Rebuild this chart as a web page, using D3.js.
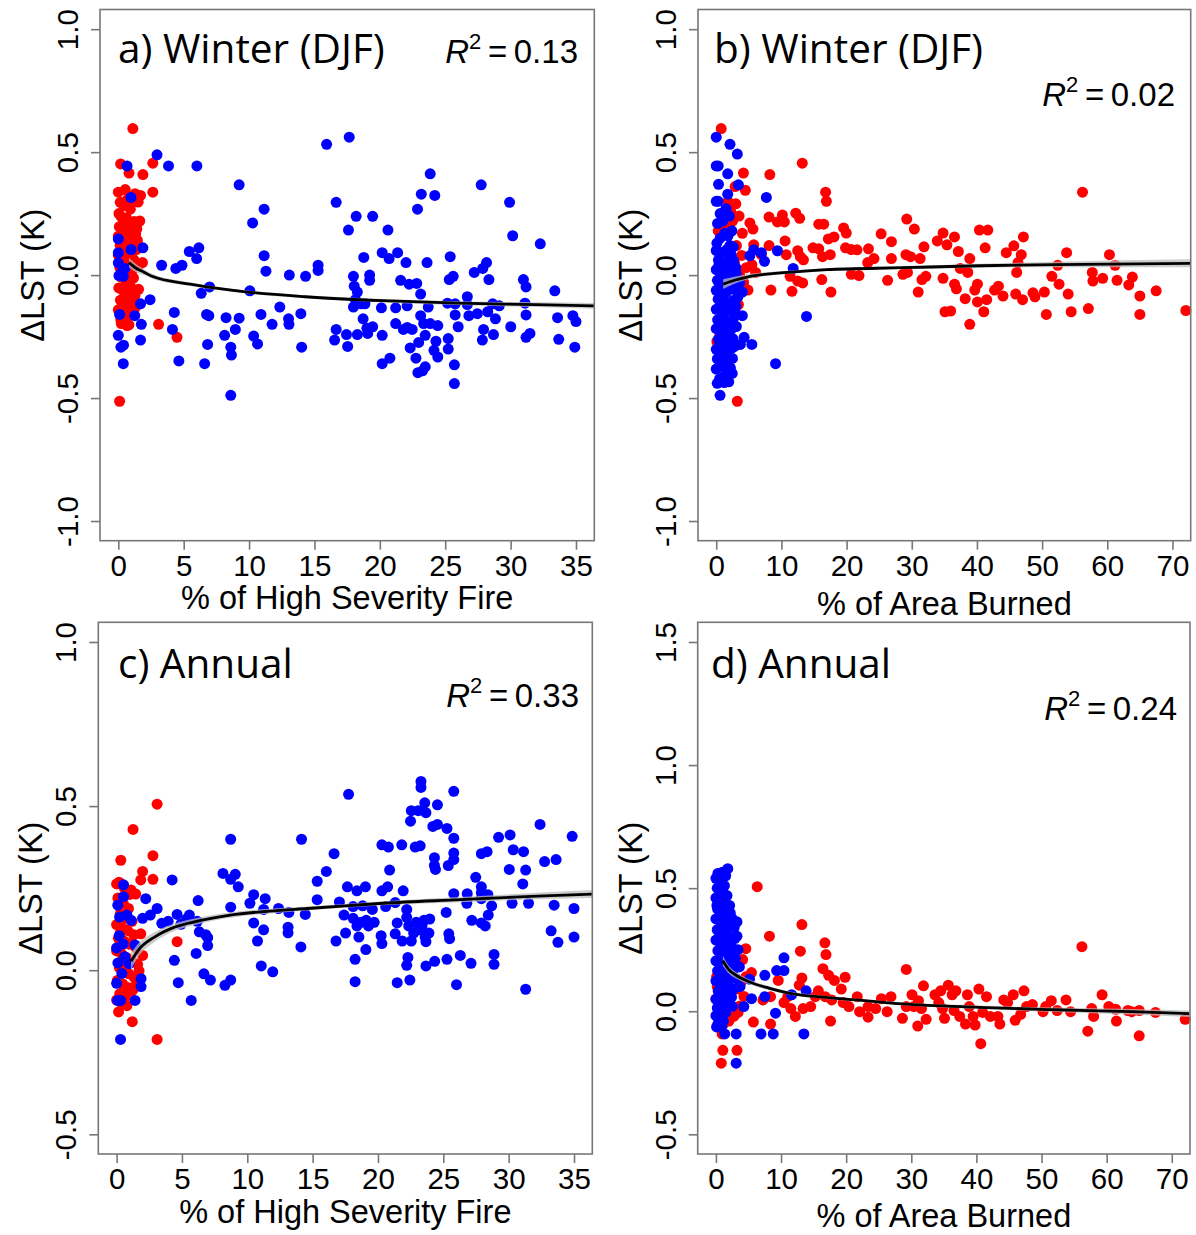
<!DOCTYPE html>
<html>
<head>
<meta charset="utf-8">
<script src="https://cdn.jsdelivr.net/npm/d3@7"></script>
<style>
body{margin:0;background:#fff;}
svg{display:block;}
</style>
</head>
<body>
<script>
// tick labels / axis limits
var ticksFire = [0,5,10,15,20,25,30,35];
var ticksArea = [0,10,20,30,40,50,60,70];
var ticksWinter = [-1.0,-0.5,0.0,0.5,1.0];
var ticksAnnC = [-0.5,0.0,0.5,1.0];
var ticksAnnD = [-0.5,0.0,0.5,1.0,1.5];
var limFire = [-1.4,36.4], limArea = [-2.8,72.8];
var limWinter = [-1.08,1.08], limAnnC = [-0.56,1.06], limAnnD = [-0.58,1.58];

// a) winter, high severity
var redA = [[1.11,0.596],[0.18,0.452],[0.82,0.415],[1.88,0.409],[2.64,0.455],[2.64,0.337],[0.0,0.337],[0.53,0.348],[1.7,0.324],[1.4,0.3],[0.97,0.292],[1.64,0.22],[1.85,0.051],[0.1,-0.513],[4.49,-0.253],[3.08,-0.2],[1.11,-0.12],[0.67,-0.205],[0.23,-0.197],
[0.05,0.25],[0.22,0.238],[0.41,0.223],[0.63,0.232],[0.88,0.207],[1.21,0.218],[0.08,0.197],[0.36,0.188],[0.71,0.176],[1.02,0.192],[1.33,0.168],[0.0,0.158],[0.27,0.151],[0.52,0.139],[0.79,0.148],[1.12,0.127],[1.46,0.141],[0.14,0.121],[0.44,0.098],[0.76,0.113],[1.06,0.092],[1.37,0.104],[0.0,0.081],[0.31,0.069],[0.59,0.058],[0.93,0.049],[1.19,0.062],[0.12,0.031],[0.38,0.022],[0.72,0.034],[1.01,0.012],[0.21,-0.008],[0.56,-0.021],[0.84,-0.033],[1.16,-0.012],[0.04,-0.052],[0.33,-0.061],[0.66,-0.074],[0.96,-0.049],[1.27,-0.083],[0.16,-0.102],[0.47,-0.114],[0.74,-0.097],[1.04,-0.123],[0.0,-0.141],[0.29,-0.152],[0.61,-0.138],[0.91,-0.163],[0.19,-0.181],[0.49,-0.188],[0.81,-0.202],[1.31,-0.131],[0.42,0.283],[0.92,0.268],[1.52,0.297],[1.28,0.331],[0.69,0.307],[0.15,0.296],[1.58,0.041],[1.55,-0.058],[0.26,0.046],[0.57,0.201],[0.86,0.071],[1.42,0.188]];
var blueA = [[2.96,0.489],[3.84,0.444],[6.01,0.444],[0.67,0.444],[0.97,0.316],[0.0,0.147],[0.0,0.091],[0.97,0.104],[1.88,0.111],[0.0,0.05],[0.23,0.01],[0.38,-0.005],[0.05,-0.002],[0.5,0.027],[0.1,-0.16],[0.0,-0.245],[0.2,-0.293],[0.4,-0.285],[0.38,-0.36],[1.26,-0.165],[1.76,-0.2],[1.7,-0.117],[1.7,-0.264],[2.43,-0.1],[3.31,0.04],[4.28,-0.152],[4.14,-0.221],[4.4,0.027],[4.87,0.04],[4.63,-0.349],[5.43,0.096],[6.16,0.111],[5.99,0.067],[6.34,-0.074],[6.98,-0.048],[6.75,-0.16],[6.92,-0.165],[6.83,-0.282],[6.6,-0.36],[8.13,-0.245],[8.24,-0.173],[8.6,-0.293],[8.65,-0.325],[8.6,-0.489],[8.95,-0.221],[9.24,0.367],[9.24,-0.175],[10.06,-0.064],[10.27,0.212],[11.15,0.268],[11.15,0.079],[11.29,0.016],[10.35,-0.248],[10.65,-0.28],[10.91,-0.16],[11.76,-0.2],[12.35,-0.13],[13.02,-0.178],[13.05,-0.2],[13.08,0.0],[13.96,-0.157],[14.02,-0.293],[14.32,-0.005],[15.28,0.04],[15.28,0.019],[15.93,0.532],[16.54,-0.264],[16.66,-0.221],[16.66,0.296],[17.45,-0.242],[17.54,-0.29],[17.66,0.561],[17.6,0.183],[17.98,-0.005],[18.04,-0.045],[18.19,0.239],[18.77,0.072],[17.98,-0.13],[18.13,-0.1],[18.28,-0.069],[18.57,-0.117],[18.72,-0.178],[18.86,-0.117],[19.01,-0.216],[19.07,-0.237],[18.28,-0.242],[19.22,0.0],[19.22,-0.021],[19.45,0.239],[19.45,-0.21],[20.18,0.091],[20.62,0.183],[20.71,0.067],[20.12,-0.133],[20.18,-0.245],[20.18,-0.36],[20.77,-0.338],[21.36,0.091],[21.21,-0.133],[21.21,-0.197],[21.59,-0.021],[22.0,0.051],[21.8,-0.221],[22.09,-0.213],[22.09,-0.125],[22.24,-0.037],[22.47,-0.221],[22.32,-0.296],[22.82,-0.034],[22.88,0.268],[22.76,-0.338],[22.97,-0.274],[22.91,-0.397],[23.12,-0.077],[23.17,0.329],[23.26,-0.389],[23.47,-0.373],[23.12,-0.165],[23.35,-0.197],[23.47,-0.245],[23.61,0.051],[23.85,0.412],[23.7,-0.13],[23.85,-0.197],[24.2,0.324],[24.43,-0.205],[24.14,-0.306],[24.43,-0.333],[24.29,-0.269],[25.17,-0.114],[25.31,-0.018],[25.38,0.075],[25.23,-0.258],[25.23,-0.301],[25.61,-0.005],[25.76,-0.162],[25.76,-0.117],[25.7,-0.365],[25.7,-0.441],[25.99,-0.21],[26.69,-0.088],[26.69,-0.12],[26.81,-0.165],[27.22,0.011],[27.46,-0.157],[27.75,0.367],[27.87,0.027],[28.16,0.051],[28.34,-0.018],[27.93,-0.221],[27.84,-0.264],[28.25,-0.149],[28.63,-0.117],[28.69,-0.242],[28.84,-0.178],[29.13,-0.125],[29.92,0.296],[30.16,0.16],[30.01,-0.21],[30.98,-0.018],[31.18,-0.048],[31.1,-0.114],[31.18,-0.162],[31.18,-0.253],[31.48,-0.237],[32.27,0.127],[33.38,-0.064],[33.59,-0.173],[33.68,-0.261],[34.76,-0.165],[35.0,-0.189],[34.91,-0.293]];
var fitA = [[0.82,0.051],[1.4,0.027],[2.0,0.011],[2.58,-0.005],[5.5,-0.037],[9.9,-0.069],[14.3,-0.088],[20.2,-0.104],[26,-0.114],[31.9,-0.12],[36.4,-0.125]];
var bandA = [0.02,0.016,0.012,0.01,0.007,0.006,0.006,0.007,0.008,0.01,0.012];

// b) winter, area burned
var redB = [[0.76,0.596],[4.17,0.415],[4.46,0.345],[8.22,0.409],[13.2,0.455],[3.23,-0.513],[16.78,0.337],[16.9,0.3],[56.2,0.337],[5.16,0.212],[5.63,0.187],[8.1,0.236],[9.39,0.216],[10.15,0.244],[10.45,0.216],[12.2,0.252],[12.8,0.231],[15.73,0.207],[16.49,0.207],[17.2,0.147],[18.07,0.155],[19.54,0.192],[19.95,0.171],[25.3,0.168],[26.88,0.136],[29.23,0.228],[30.4,0.187],[33.92,0.139],[34.8,0.171],[35.4,0.123],[36.56,0.155],[40.38,0.183],[41.67,0.183],[41.26,0.111],[47.13,0.155],[45.66,0.119],[46.8,0.083],[53.76,0.091],[60.33,0.083],[61.2,0.04],[52.4,0.04],[51.5,-0.005],[52.6,-0.037],[54.0,-0.077],[54.46,-0.149],[50.65,-0.16],[50.35,-0.069],[48.6,-0.072],[48.9,-0.088],[47.0,-0.1],[45.95,-0.077],[44.0,-0.085],[43.3,-0.045],[42.7,-0.061],[41.5,-0.1],[41.05,-0.149],[40.08,-0.037],[39.67,-0.061],[40.08,-0.109],[38.9,-0.2],[38.2,-0.096],[36.85,-0.056],[36.56,-0.037],[35.1,-0.149],[35.97,-0.146],[34.8,-0.013],[38.6,0.011],[38.9,0.067],[37.44,0.027],[37.15,0.096],[31.87,0.115],[31.28,0.067],[30.99,-0.069],[31.57,-0.018],[32.16,-0.005],[29.81,0.075],[29.11,0.083],[29.34,0.011],[28.64,0.003],[26.88,0.067],[26.29,-0.021],[24.2,0.067],[23.36,0.107],[23.24,0.051],[21.6,0.103],[20.72,0.104],[19.84,0.111],[20.72,0.003],[21.9,-0.002],[17.6,-0.069],[16.19,-0.018],[16.31,0.075],[17.49,0.083],[15.73,0.107],[14.85,0.111],[13.38,0.062],[13.26,-0.032],[12.5,-0.024],[11.62,-0.066],[11.33,-0.005],[10.74,0.083],[10.56,0.139],[12.5,0.099],[12.9,0.075],[8.1,0.12],[8.39,-0.061],[6.92,0.083],[5.75,0.123],[4.87,-0.061],[5.46,0.043],[6.04,0.011],[57.7,0.011],[57.8,-0.024],[57.1,-0.136],[59.3,-0.013],[61.5,-0.021],[63.3,-0.04],[63.85,-0.008],[65.0,-0.085],[65.0,-0.16],[67.5,-0.064],[72.06,-0.144],[44.5,0.091],[46.3,0.051],[46.1,0.011],
[0.3,0.18],[1.2,0.2],[2.5,0.22],[3.1,0.12],[2.8,0.05],[3.6,0.0],[4.2,-0.03],[3.9,0.08],[1.8,0.3],[2.2,0.26],[0.5,-0.25],[3.4,-0.12],[2.6,-0.2],[4.0,0.17],[3.0,0.29],[0.1,-0.27],[4.4,-0.06],[3.5,0.24],[2.9,0.36],[4.6,0.03]];
var blueB = [[0.0,0.561],[2.11,0.532],[3.23,0.492],[0.3,0.444],[0.0,0.444],[1.76,0.412],[0.35,0.369],[3.4,0.367],[1.76,0.329],[0.3,0.3],[0.0,0.3],[7.69,0.316],[9.39,0.099],[11.8,0.027],[13.85,-0.168],[9.1,-0.36],[5.46,-0.282],[4.28,-0.253],[3.7,-0.282],[5.16,0.079],[5.75,0.103],[6.92,0.091],[7.4,0.056],[0.59,-0.489],[1.23,-0.437],[4.0,-0.165],[4.0,-0.069],[1.5,0.27],[2.0,0.24],[1.0,0.22],[0.2,0.21],[2.4,0.18],[1.3,0.17],[0.6,0.15],[0.1,0.13],[2.1,0.12],[3.0,0.03],[3.6,-0.03],[3.3,-0.09],[2.9,-0.15],
[0.0,0.1],[0.8,0.092],[1.62,0.104],[2.31,0.081],[0.33,0.061],[1.12,0.048],[1.94,0.071],[2.68,0.058],[0.0,0.022],[0.61,0.008],[1.38,0.031],[2.19,0.017],[3.06,0.006],[0.18,-0.021],[0.98,-0.034],[1.79,-0.012],[2.52,-0.024],[0.0,-0.062],[0.72,-0.048],[1.51,-0.071],[2.33,-0.057],[3.18,-0.064],[0.29,-0.098],[1.08,-0.087],[1.91,-0.113],[2.71,-0.102],[0.0,-0.139],[0.58,-0.128],[1.42,-0.151],[2.24,-0.137],[3.02,-0.126],[0.21,-0.182],[0.97,-0.169],[1.83,-0.193],[2.62,-0.178],[0.0,-0.218],[0.69,-0.207],[1.47,-0.232],[2.28,-0.221],[3.08,-0.209],[0.32,-0.261],[1.11,-0.248],[1.88,-0.272],[2.57,-0.259],[0.0,-0.302],[0.81,-0.288],[1.63,-0.311],[2.41,-0.297],[0.17,-0.341],[1.02,-0.328],[1.81,-0.352],[2.49,-0.339],[0.0,-0.382],[0.89,-0.369],[1.69,-0.392],[2.18,-0.378],[0.52,-0.421],[1.31,-0.408],[1.92,-0.434],
[0.4,0.04],[1.5,-0.005],[2.6,0.115],[0.9,-0.115],[2.0,-0.25],[1.3,-0.36],[0.5,-0.33],[2.8,-0.29],[0.6,0.25],[1.8,0.16],[2.45,-0.4],[0.15,-0.44]];
var fitB = [[1.06,-0.037],[2.8,-0.021],[5.2,-0.005],[11,0.011],[16.9,0.022],[28.6,0.03],[40.4,0.038],[52.1,0.043],[72.7,0.048]];
var bandB = [0.02,0.014,0.01,0.007,0.006,0.006,0.008,0.011,0.016];

// c) annual, high severity
var redC = [[3.1,0.506],[1.26,0.429],[0.32,0.335],[2.78,0.349],[1.99,0.301],[1.85,0.275],[2.78,0.277],[0.0,0.263],[1.11,0.244],[1.46,0.232],[4.63,0.087],[3.1,-0.211],[1.2,-0.157],[0.15,-0.127],[1.99,0.045],[1.85,0.111],
[0.1,0.22],[0.52,0.203],[0.91,0.188],[0.28,0.171],[0.69,0.158],[1.18,0.149],[0.0,0.139],[0.46,0.128],[0.84,0.121],[1.31,0.108],[0.14,0.097],[0.61,0.088],[1.02,0.079],[1.49,0.068],[0.0,0.059],[0.36,0.051],[0.77,0.038],[1.16,0.029],[1.61,0.018],[0.21,0.008],[0.56,-0.003],[0.94,-0.011],[1.36,-0.022],[0.06,-0.031],[0.47,-0.042],[0.86,-0.053],[1.24,-0.061],[0.24,-0.072],[0.66,-0.081],[1.07,-0.064],[0.0,-0.091],[0.41,-0.102],[0.79,-0.108],[1.41,-0.049],[0.58,0.252],[1.01,0.231],[0.19,0.268],[1.72,-0.002],[1.63,-0.041],[0.31,0.118],[0.89,0.021]];
var blueC = [[17.75,0.536],[23.29,0.575],[23.29,0.557],[25.8,0.545],[22.55,0.486],[23.08,0.486],[23.58,0.51],[23.67,0.48],[24.55,0.504],[22.49,0.454],[24.2,0.438],[24.55,0.444],[25.28,0.432],[25.8,0.402],[32.4,0.444],[29.23,0.405],[30.11,0.412],[34.86,0.408],[8.73,0.399],[14.15,0.399],[20.3,0.382],[20.8,0.375],[21.82,0.382],[22.85,0.375],[23.23,0.379],[30.35,0.367],[31.14,0.361],[28.35,0.361],[27.91,0.355],[25.8,0.357],[16.64,0.355],[24.32,0.343],[24.32,0.319],[24.4,0.307],[25.38,0.319],[25.8,0.337],[32.75,0.331],[33.63,0.337],[20.89,0.305],[30.05,0.307],[31.3,0.305],[16.05,0.301],[8.14,0.295],[9.08,0.292],[8.73,0.277],[9.31,0.254],[27.48,0.283],[27.91,0.254],[31.08,0.263],[4.25,0.275],[15.35,0.271],[17.66,0.254],[18.39,0.242],[19.04,0.254],[20.3,0.242],[20.74,0.254],[21.93,0.242],[25.8,0.233],[26.83,0.233],[27.91,0.236],[28.41,0.23],[27.91,0.218],[10.49,0.23],[11.37,0.218],[6.24,0.212],[2.23,0.218],[0.53,0.26],[0.53,0.224],[0.09,0.198],[10.2,0.204],[15.35,0.215],[17.05,0.208],[18.1,0.194],[18.83,0.196],[19.57,0.185],[21.32,0.206],[22.2,0.185],[20.59,0.194],[26.8,0.204],[28.7,0.196],[30.26,0.204],[31.52,0.204],[33.48,0.198],[35.0,0.188],[25.22,0.176],[28.44,0.168],[12.39,0.188],[13.18,0.176],[11.25,0.185],[14.44,0.17],[8.73,0.192],[3.1,0.188],[2.58,0.168],[1.99,0.158],[0.23,0.162],[1.11,0.152],[4.63,0.17],[5.36,0.156],[3.46,0.143],[3.95,0.149],[4.92,0.14],[5.57,0.168],[6.18,0.149],[6.33,0.117],[6.82,0.108],[6.97,0.099],[6.97,0.075],[6.09,0.051],[10.49,0.144],[11.25,0.123],[10.78,0.089],[13.12,0.131],[13.12,0.114],[14.1,0.071],[17.4,0.168],[17.52,0.113],[16.79,0.089],[18.1,0.158],[18.39,0.135],[18.69,0.146],[18.54,0.101],[19.1,0.152],[19.27,0.135],[19.71,0.146],[19.07,0.063],[20.24,0.105],[20.3,0.081],[21.32,0.111],[21.47,0.144],[21.85,0.089],[22.2,0.161],[22.35,0.135],[22.55,0.089],[22.73,0.113],[22.93,0.146],[23.14,0.123],[23.37,0.135],[23.61,0.101],[23.67,0.087],[23.9,0.113],[23.96,0.156],[23.52,0.152],[25.42,0.111],[25.48,0.096],[27.18,0.152],[27.91,0.144],[28.21,0.135],[33.25,0.12],[33.77,0.085],[35.0,0.101],[27.12,0.021],[26.3,0.045],[28.88,0.048],[28.88,0.018],[25.28,0.033],[24.34,0.027],[23.67,0.013],[22.29,0.039],[22.2,0.015],[21.47,-0.038],[22.44,-0.03],[18.25,0.033],[18.25,-0.035],[26.01,-0.044],[31.3,-0.058],[11.07,0.013],[11.95,-0.005],[4.42,0.03],[4.72,-0.038],[6.68,-0.011],[7.18,-0.03],[8.29,-0.046],[8.73,-0.03],[5.71,-0.092],[1.41,-0.092],[0.3,-0.092],[0.08,-0.092],[0.3,-0.211],[1.87,-0.026],[1.87,-0.05],[1.41,0.077],[0.5,0.08],[0.0,0.068],[0.62,0.041],[0.1,0.022],[0.0,-0.04],[0.79,0.168],[0.2,0.105],[0.95,0.02],[0.4,-0.01]];
var fitC = [[1.1,0.027],[1.7,0.063],[2.9,0.101],[4.3,0.129],[5.8,0.146],[8.7,0.168],[11.7,0.18],[14.6,0.188],[17.5,0.196],[20.4,0.204],[26.3,0.215],[32.2,0.226],[36.4,0.232]];
var bandC = [0.025,0.02,0.015,0.012,0.01,0.008,0.007,0.006,0.006,0.006,0.008,0.01,0.012];

// d) annual, area burned
var redD = [[6.34,0.506],[13.2,0.352],[56.2,0.262],[16.73,0.278],[16.9,0.23],[4.58,0.254],[8.22,0.305],[12.97,0.244],[16.43,0.173],[17.31,0.146],[18.19,0.125],[19.84,0.138],[19.25,0.09],[29.23,0.17],[31.87,0.103],[13.2,0.135],[12.8,0.106],[9.57,0.125],[5.46,0.157],[15.73,0.083],[16.78,0.059],[17.78,0.046],[19.54,0.035],[20.42,0.019],[21.7,0.059],[22.06,-0.002],[23.36,0.019],[23.36,-0.024],[24.53,0.011],[25.41,0.051],[26.29,-0.002],[26.88,0.059],[28.64,-0.029],[29.23,0.019],[30.11,0.067],[30.4,0.019],[30.99,-0.06],[31.1,0.043],[31.57,0.011],[32.28,-0.033],[33.63,0.067],[34.21,0.035],[34.51,0.083],[34.8,0.011],[35.1,-0.029],[35.68,0.106],[36.27,0.067],[36.56,0.003],[36.85,0.083],[37.44,-0.021],[38.32,-0.052],[38.62,0.067],[38.9,0.019],[39.5,-0.021],[39.8,-0.056],[40.38,0.09],[40.67,-0.132],[40.96,-0.005],[41.55,0.059],[42.14,-0.021],[43.3,-0.021],[43.6,-0.052],[44.2,0.046],[44.78,0.035],[45.66,0.067],[45.95,-0.037],[46.8,-0.013],[47.3,0.083],[47.7,0.019],[48.6,0.027],[50.23,-0.002],[50.65,0.019],[51.5,0.043],[52.4,0.003],[53.76,0.046],[54.46,-0.002],[57.1,-0.081],[57.7,0.011],[58.0,-0.021],[59.3,0.067],[60.33,0.019],[61.38,0.008],[61.5,-0.04],[63.26,0.003],[63.85,-0.002],[65.0,0.003],[65.0,-0.1],[67.5,-0.005],[72.06,-0.033],[17.6,-0.04],[12.2,-0.021],[11.5,0.011],[10.45,0.035],[11.03,0.059],[8.39,-0.052],[5.75,-0.044],[3.4,-0.005],[1.64,-0.037],[0.94,-0.092],[1.06,-0.159],[0.82,-0.211],[3.23,-0.159],[15.26,0.059],[14.55,0.019],[13.38,0.011],[7.22,0.046],[8.39,0.059],
[0.2,0.1],[0.0,0.05],[0.5,-0.04],[1.2,-0.05],[2.0,-0.04],[2.8,-0.02],[3.6,0.02],[4.3,0.06],[3.9,0.12],[4.6,0.14],[2.2,0.26],[0.1,0.14],[1.6,0.3],[4.1,0.21],[3.3,0.09],[2.5,0.16]];
var blueD = [[1.82,0.579],[3.23,0.363],[3.23,0.305],[10.45,0.217],[9.33,0.165],[10.45,0.165],[7.51,0.146],[5.16,0.13],[5.46,0.051],[7.51,0.059],[11.62,0.067],[13.85,0.083],[9.15,-0.008],[4.28,0.019],[1.35,-0.092],[3.11,-0.092],[6.92,-0.092],[8.8,-0.092],[13.5,-0.092],[3.11,-0.211],
[0.3,0.56],[1.0,0.565],[1.5,0.55],[0.0,0.54],[0.6,0.52],[1.3,0.51],[0.2,0.5],[0.9,0.485],[1.7,0.47],[0.0,0.46],[0.5,0.445],[1.2,0.44],[2.1,0.43],[0.25,0.415],[0.95,0.405],[1.6,0.395],[2.4,0.38],[0.0,0.375],[0.7,0.362],[1.35,0.355],[2.0,0.342],[0.2,0.331],[0.85,0.322],[1.55,0.313],[2.25,0.3],[2.9,0.295],[0.0,0.289],[0.6,0.28],[1.25,0.272],[1.9,0.262],[2.6,0.255],[0.3,0.246],[0.95,0.238],[1.65,0.229],[2.3,0.22],[3.0,0.214],[0.0,0.205],[0.7,0.197],[1.4,0.188],[2.05,0.18],[2.75,0.172],[0.25,0.164],[0.9,0.156],[1.6,0.147],[2.35,0.139],[3.1,0.132],[0.0,0.123],[0.65,0.115],[1.3,0.106],[2.0,0.098],[2.7,0.09],[0.35,0.082],[1.0,0.073],[1.7,0.064],[2.4,0.057],[0.0,0.049],[0.6,0.04],[1.25,0.031],[1.95,0.022],[0.2,0.013],[0.85,0.004],[1.5,-0.005],[0.0,-0.018],[0.6,-0.028],[1.15,-0.04],[0.3,-0.052],[0.9,-0.061],[0.1,-0.064],
[3.4,0.25],[3.6,0.18],[2.8,0.34],[0.5,0.3],[1.1,0.21],[1.8,0.11],[3.7,0.1],[2.2,0.4],[0.15,0.43],[1.45,0.47],[0.75,0.08],[2.5,0.02]];
var fitD = [[1.06,0.205],[1.94,0.17],[3.4,0.141],[5.16,0.119],[8.1,0.094],[11,0.075],[16.9,0.056],[22.8,0.043],[28.6,0.03],[40.4,0.016],[52.1,0.006],[63.8,-0.002],[72.7,-0.01]];
var bandD = [0.02,0.016,0.012,0.01,0.008,0.007,0.006,0.006,0.006,0.007,0.009,0.011,0.013];

var panels = [
	{title:'a) Winter (DJF)', r2:'0.13', xlab:'% of High Severity Fire', red:redA, blue:blueA, fit:fitA, band:bandA, xlim:limFire, ylim:limWinter, xt:ticksFire, yt:ticksWinter},
	{title:'b) Winter (DJF)', r2:'0.02', xlab:'% of Area Burned', red:redB, blue:blueB, fit:fitB, band:bandB, xlim:limArea, ylim:limWinter, xt:ticksArea, yt:ticksWinter},
	{title:'c) Annual', r2:'0.33', xlab:'% of High Severity Fire', red:redC, blue:blueC, fit:fitC, band:bandC, xlim:limFire, ylim:limAnnC, xt:ticksFire, yt:ticksAnnC},
	{title:'d) Annual', r2:'0.24', xlab:'% of Area Burned', red:redD, blue:blueD, fit:fitD, band:bandD, xlim:limArea, ylim:limAnnD, xt:ticksArea, yt:ticksAnnD}
];

// pixel boxes for each panel
var boxes = [
	{x0:100, x1:594.3, y0:9.5, y1:540.7, tx:118, ty:63, rx:578, ry:63, lx:609},
	{x0:698, x1:1190.7, y0:9.5, y1:540.7, tx:714, ty:63, rx:1175, ry:106, lx:615},
	{x0:98.3, x1:592.3, y0:622.3, y1:1154, tx:118, ty:678, rx:579, ry:707, lx:1223},
	{x0:697.7, x1:1190, y0:622.3, y1:1154, tx:711, ty:678, rx:1177, ry:720, lx:1227}
];

var tickFont = "'Liberation Sans', Arial, sans-serif";
var grey = '#777';

var svg = d3.select('body').append('svg')
	.attr('width',1196)
	.attr('height',1235);
svg.append('rect').attr('width',1196).attr('height',1235).attr('fill','#fff');

panels.forEach(function(p,i){
	var b = boxes[i];
	var x = d3.scaleLinear().domain(p.xlim).range([b.x0,b.x1]);
	var y = d3.scaleLinear().domain(p.ylim).range([b.y1,b.y0]);
	var g = svg.append('g');

	// points: red first, blue on top
	g.selectAll('.r').data(p.red).enter().append('circle')
		.attr('cx',function(d){return x(d[0]);})
		.attr('cy',function(d){return y(d[1]);})
		.attr('r',5.5)
		.attr('fill','#ff0000');
	g.selectAll('.b').data(p.blue).enter().append('circle')
		.attr('cx',function(d){return x(d[0]);})
		.attr('cy',function(d){return y(d[1]);})
		.attr('r',5.5)
		.attr('fill','#0000ff');

	// fitted curve with confidence band
	var bandData = p.fit.map(function(d,k){return [d[0],d[1]-p.band[k],d[1]+p.band[k]];});
	g.append('path')
		.datum(bandData)
		.attr('d',d3.area().curve(d3.curveMonotoneX)
			.x(function(d){return x(d[0]);})
			.y0(function(d){return y(d[1]);})
			.y1(function(d){return y(d[2]);}))
		.attr('fill','#bbb')
		.attr('fill-opacity',0.75);
	g.append('path')
		.datum(p.fit)
		.attr('d',d3.line().curve(d3.curveMonotoneX)
			.x(function(d){return x(d[0]);})
			.y(function(d){return y(d[1]);}))
		.attr('fill','none')
		.attr('stroke','#000')
		.attr('stroke-width',2.8);

	// box
	g.append('rect')
		.attr('x',b.x0).attr('y',b.y0)
		.attr('width',b.x1-b.x0).attr('height',b.y1-b.y0)
		.attr('fill','none').attr('stroke',grey).attr('stroke-width',1.6);

	// axes
	var xa = g.append('g')
		.attr('transform','translate(0,'+b.y1+')')
		.call(d3.axisBottom(x).tickValues(p.xt).tickSize(9).tickSizeOuter(0));
	xa.select('.domain').remove();
	xa.selectAll('line').attr('stroke',grey).attr('stroke-width',1.6);
	xa.selectAll('text')
		.attr('y',35).attr('dy',0)
		.attr('fill','#000')
		.style('font-family',tickFont).style('font-size','29.5px');

	var ya = g.append('g')
		.attr('transform','translate('+b.x0+',0)')
		.call(d3.axisLeft(y).tickValues(p.yt).tickSize(9).tickSizeOuter(0)
			.tickFormat(function(d){return d.toFixed(1);}));
	ya.select('.domain').remove();
	ya.selectAll('line').attr('stroke',grey).attr('stroke-width',1.6);
	ya.selectAll('text')
		.attr('x',0).attr('y',0).attr('dy',0)
		.attr('transform','translate(-22,0) rotate(-90)')
		.attr('text-anchor','middle')
		.attr('fill','#000')
		.style('font-family',tickFont).style('font-size','29.5px');

	// axis titles
	g.append('text')
		.attr('x',(b.x0+b.x1)/2).attr('y',b.lx)
		.attr('text-anchor','middle')
		.style('font-family',tickFont).style('font-size','32.5px')
		.text(p.xlab);
	g.append('text')
		.attr('transform','translate('+(b.x0-56)+','+((b.y0+b.y1)/2)+') rotate(-90)')
		.attr('text-anchor','middle')
		.style('font-family',tickFont).style('font-size','32.5px')
		.text('\u0394LST (K)');

	// panel title
	g.append('text')
		.attr('x',b.tx).attr('y',b.ty)
		.style('font-family',"'Open Sans', 'Noto Sans', sans-serif").style('font-size','40.5px')
		.text(p.title);

	// R^2
	var r = g.append('text')
		.attr('x',b.rx).attr('y',b.ry)
		.attr('text-anchor','end')
		.style('font-family',tickFont).style('font-size','33px');
	r.append('tspan').style('font-style','italic').text('R');
	r.append('tspan').attr('dy',-14).style('font-size','22px').text('2');
	r.append('tspan').attr('dy',14).text('\u2009=\u20090.' + p.r2.split('.')[1]);
});
</script>
</body>
</html>
